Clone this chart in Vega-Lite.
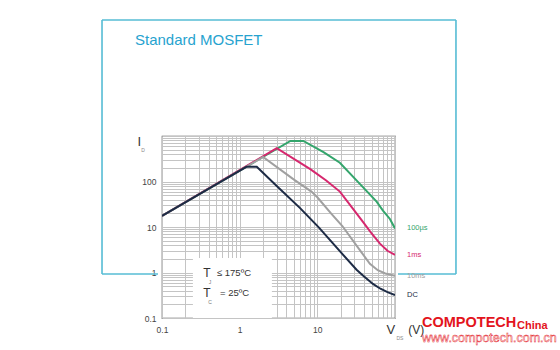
{
  "$schema": "https://vega.github.io/schema/vega-lite/v6.json",
  "width": 233,
  "height": 182,
  "autosize": {"type": "none"},
  "padding": {"left": 162, "top": 136, "right": 165, "bottom": 32},
  "background": "white",
  "config": {
    "view": {"stroke": "#555555", "strokeWidth": 1.2},
    "font": "Liberation Sans"
  },
  "datasets": {
    "curves": [
      {"series": "100µs", "V": 0.1, "I": 17.5},
      {"series": "100µs", "V": 4.5, "I": 780},
      {"series": "100µs", "V": 6.6, "I": 780},
      {"series": "100µs", "V": 12, "I": 440},
      {"series": "100µs", "V": 19.5, "I": 258},
      {"series": "100µs", "V": 35, "I": 90},
      {"series": "100µs", "V": 58, "I": 36},
      {"series": "100µs", "V": 70, "I": 23},
      {"series": "100µs", "V": 86, "I": 15},
      {"series": "100µs", "V": 100, "I": 9.3},
      {"series": "1ms", "V": 0.1, "I": 17.5},
      {"series": "1ms", "V": 3, "I": 540},
      {"series": "1ms", "V": 8.2, "I": 185},
      {"series": "1ms", "V": 13, "I": 105},
      {"series": "1ms", "V": 19.5, "I": 60},
      {"series": "1ms", "V": 30, "I": 23},
      {"series": "1ms", "V": 40, "I": 12},
      {"series": "1ms", "V": 50, "I": 7.2},
      {"series": "1ms", "V": 64, "I": 4.3},
      {"series": "1ms", "V": 80, "I": 3.0},
      {"series": "1ms", "V": 100, "I": 2.45},
      {"series": "10ms", "V": 0.1, "I": 17.5},
      {"series": "10ms", "V": 2, "I": 345},
      {"series": "10ms", "V": 5, "I": 110},
      {"series": "10ms", "V": 8.4, "I": 60},
      {"series": "10ms", "V": 10, "I": 45},
      {"series": "10ms", "V": 15, "I": 20},
      {"series": "10ms", "V": 21, "I": 10.5},
      {"series": "10ms", "V": 32, "I": 3.9},
      {"series": "10ms", "V": 47.5, "I": 1.55},
      {"series": "10ms", "V": 60, "I": 1.12},
      {"series": "10ms", "V": 75, "I": 0.95},
      {"series": "10ms", "V": 100, "I": 0.85},
      {"series": "DC", "V": 0.1, "I": 17.5},
      {"series": "DC", "V": 1.22, "I": 210},
      {"series": "DC", "V": 1.66, "I": 210},
      {"series": "DC", "V": 3, "I": 80},
      {"series": "DC", "V": 6, "I": 26},
      {"series": "DC", "V": 10.5, "I": 9.7},
      {"series": "DC", "V": 20, "I": 2.8},
      {"series": "DC", "V": 32, "I": 1.15},
      {"series": "DC", "V": 40, "I": 0.82},
      {"series": "DC", "V": 52, "I": 0.56},
      {"series": "DC", "V": 65, "I": 0.44},
      {"series": "DC", "V": 80, "I": 0.37},
      {"series": "DC", "V": 100, "I": 0.32}
    ]
  },
  "layer": [
    {
      "data": {"values": [{}]},
      "mark": {"type": "rule", "color": "#56bcd4", "strokeWidth": 1.6, "clip": false},
      "encoding": {
        "x": {"datum": 0.01689, "type": "quantitative"},
        "x2": {"datum": 609.5},
        "y": {"datum": 354000, "type": "quantitative"}
      }
    },
    {
      "data": {"values": [{}]},
      "mark": {"type": "rule", "color": "#56bcd4", "strokeWidth": 1.6, "clip": false},
      "encoding": {
        "x": {"datum": 0.01689, "type": "quantitative"},
        "y": {"datum": 354000, "type": "quantitative"},
        "y2": {"datum": 0.927}
      }
    },
    {
      "data": {"values": [{}]},
      "mark": {"type": "rule", "color": "#56bcd4", "strokeWidth": 1.6, "clip": false},
      "encoding": {
        "x": {"datum": 609.5, "type": "quantitative"},
        "y": {"datum": 354000, "type": "quantitative"},
        "y2": {"datum": 0.927}
      }
    },
    {
      "data": {"values": [{}]},
      "mark": {"type": "rule", "color": "#56bcd4", "strokeWidth": 1.6, "clip": false},
      "encoding": {
        "x": {"datum": 0.01689, "type": "quantitative"},
        "x2": {"datum": 0.0888},
        "y": {"datum": 0.927, "type": "quantitative"}
      }
    },
    {
      "data": {"values": [{}]},
      "mark": {"type": "rule", "color": "#56bcd4", "strokeWidth": 1.6, "clip": false},
      "encoding": {
        "x": {"datum": 109.3, "type": "quantitative"},
        "x2": {"datum": 609.5},
        "y": {"datum": 0.927, "type": "quantitative"}
      }
    },
    {
      "data": {"values": [{}]},
      "mark": {"type": "rect", "color": "white", "clip": true},
      "encoding": {
        "x": {"datum": 0.25, "type": "quantitative"},
        "x2": {"datum": 2.6},
        "y": {"datum": 2.08, "type": "quantitative"},
        "y2": {"datum": 0.1}
      }
    },
    {
      "data": {"name": "curves"},
      "mark": {"type": "line", "strokeWidth": 2, "clip": true},
      "encoding": {
        "x": {
          "field": "V", "type": "quantitative",
          "scale": {"type": "log", "domain": [0.1, 100], "nice": false},
          "axis": {
            "title": null,
            "values": [0.1, 0.2, 0.3, 0.4, 0.5, 0.6, 0.7, 0.8, 0.9, 1, 2, 3, 4, 5, 6, 7, 8, 9, 10, 20, 30, 40, 50, 60, 70, 80, 90, 100],
            "format": "~g",
            "labelExpr": "indexof([0.1, 1, 10], datum.value) >= 0 ? datum.label : ''",
            "ticks": false, "domain": false,
            "grid": true, "gridColor": "#c4c4c4", "gridWidth": 1,
            "labelFontSize": 8.5, "labelColor": "#444444", "labelPadding": 7,
            "labelFlush": false, "labelOverlap": false, "labelBound": false
          }
        },
        "y": {
          "field": "I", "type": "quantitative",
          "scale": {"type": "log", "domain": [0.1, 1000], "nice": false},
          "axis": {
            "title": null,
            "values": [0.1, 0.2, 0.3, 0.4, 0.5, 0.6, 0.7, 0.8, 0.9, 1, 2, 3, 4, 5, 6, 7, 8, 9, 10, 20, 30, 40, 50, 60, 70, 80, 90, 100, 200, 300, 400, 500, 600, 700, 800, 900, 1000],
            "format": "~g",
            "labelExpr": "indexof([0.1, 1, 10, 100], datum.value) >= 0 ? datum.label : ''",
            "ticks": false, "domain": false,
            "grid": true, "gridColor": "#c4c4c4", "gridWidth": 1,
            "labelFontSize": 8.5, "labelColor": "#444444", "labelPadding": 6,
            "labelFlush": false, "labelOverlap": false, "labelBound": false
          }
        },
        "color": {
          "field": "series", "type": "nominal",
          "scale": {"domain": ["100µs", "1ms", "10ms", "DC"], "range": ["#34a56c", "#d6286e", "#a0a0a0", "#1d2b45"]},
          "legend": null
        }
      }
    },
    {
      "data": {"name": "curves"},
      "transform": [{"filter": "datum.V == 100"}],
      "mark": {"type": "text", "align": "left", "baseline": "middle", "dx": 12, "fontSize": 7.5, "clip": false},
      "encoding": {
        "x": {"field": "V", "type": "quantitative"},
        "y": {"field": "I", "type": "quantitative"},
        "text": {"field": "series"},
        "color": {"field": "series", "type": "nominal", "legend": null}
      }
    },
    {
      "data": {"values": [{}]},
      "mark": {"type": "text", "align": "center", "baseline": "middle", "fontSize": 12, "color": "#333333", "clip": false},
      "encoding": {
        "x": {"datum": 0.38, "type": "quantitative"},
        "y": {"datum": 0.975, "type": "quantitative"},
        "text": {"value": "T"}
      }
    },
    {
      "data": {"values": [{}]},
      "mark": {"type": "text", "align": "center", "baseline": "middle", "fontSize": 5, "color": "#777777", "clip": false},
      "encoding": {
        "x": {"datum": 0.415, "type": "quantitative"},
        "y": {"datum": 0.618, "type": "quantitative"},
        "text": {"value": "J"}
      }
    },
    {
      "data": {"values": [{}]},
      "mark": {"type": "text", "align": "left", "baseline": "middle", "fontSize": 9.5, "color": "#333333", "clip": false},
      "encoding": {
        "x": {"datum": 0.51, "type": "quantitative"},
        "y": {"datum": 0.975, "type": "quantitative"},
        "text": {"value": "≤ 175ºC"}
      }
    },
    {
      "data": {"values": [{}]},
      "mark": {"type": "text", "align": "center", "baseline": "middle", "fontSize": 12, "color": "#333333", "clip": false},
      "encoding": {
        "x": {"datum": 0.38, "type": "quantitative"},
        "y": {"datum": 0.354, "type": "quantitative"},
        "text": {"value": "T"}
      }
    },
    {
      "data": {"values": [{}]},
      "mark": {"type": "text", "align": "center", "baseline": "middle", "fontSize": 5, "color": "#777777", "clip": false},
      "encoding": {
        "x": {"datum": 0.415, "type": "quantitative"},
        "y": {"datum": 0.225, "type": "quantitative"},
        "text": {"value": "C"}
      }
    },
    {
      "data": {"values": [{}]},
      "mark": {"type": "text", "align": "left", "baseline": "middle", "fontSize": 9.5, "color": "#333333", "clip": false},
      "encoding": {
        "x": {"datum": 0.558, "type": "quantitative"},
        "y": {"datum": 0.354, "type": "quantitative"},
        "text": {"value": "= 25ºC"}
      }
    },
    {
      "data": {"values": [{}]},
      "mark": {"type": "text", "align": "center", "baseline": "middle", "fontSize": 13, "color": "#333333", "clip": false},
      "encoding": {
        "x": {"datum": 0.051, "type": "quantitative"},
        "y": {"datum": 738, "type": "quantitative"},
        "text": {"value": "I"}
      }
    },
    {
      "data": {"values": [{}]},
      "mark": {"type": "text", "align": "center", "baseline": "middle", "fontSize": 5, "color": "#888888", "clip": false},
      "encoding": {
        "x": {"datum": 0.0569, "type": "quantitative"},
        "y": {"datum": 492, "type": "quantitative"},
        "text": {"value": "D"}
      }
    },
    {
      "data": {"values": [{}]},
      "mark": {"type": "text", "align": "center", "baseline": "middle", "fontSize": 13, "color": "#333333", "clip": false},
      "encoding": {
        "x": {"datum": 88.5, "type": "quantitative"},
        "y": {"datum": 0.0545, "type": "quantitative"},
        "text": {"value": "V"}
      }
    },
    {
      "data": {"values": [{}]},
      "mark": {"type": "text", "align": "center", "baseline": "middle", "fontSize": 5, "color": "#888888", "clip": false},
      "encoding": {
        "x": {"datum": 115.6, "type": "quantitative"},
        "y": {"datum": 0.0363, "type": "quantitative"},
        "text": {"value": "DS"}
      }
    },
    {
      "data": {"values": [{}]},
      "mark": {"type": "text", "align": "center", "baseline": "middle", "fontSize": 12, "color": "#333333", "clip": false},
      "encoding": {
        "x": {"datum": 188, "type": "quantitative"},
        "y": {"datum": 0.0545, "type": "quantitative"},
        "text": {"value": "(V)"}
      }
    },
    {
      "data": {"values": [{}]},
      "mark": {"type": "text", "align": "left", "baseline": "middle", "fontSize": 15, "color": "#27a3cf", "clip": false},
      "encoding": {
        "x": {"datum": 0.0449, "type": "quantitative"},
        "y": {"datum": 128800, "type": "quantitative"},
        "text": {"value": "Standard MOSFET"}
      }
    },
    {
      "data": {"values": [{}]},
      "mark": {"type": "text", "align": "left", "baseline": "middle", "fontSize": 14.5, "fontWeight": "bold", "font": "Liberation Sans", "color": "#e3141c", "clip": false},
      "encoding": {
        "x": {"datum": 222.6, "type": "quantitative"},
        "y": {"datum": 0.0776, "type": "quantitative"},
        "text": {"value": "COMPOTECH"}
      }
    },
    {
      "data": {"values": [{}]},
      "mark": {"type": "text", "align": "left", "baseline": "middle", "fontSize": 11, "fontWeight": "bold", "font": "Liberation Sans", "color": "#e3141c", "clip": false},
      "encoding": {
        "x": {"datum": 3724, "type": "quantitative"},
        "y": {"datum": 0.0667, "type": "quantitative"},
        "text": {"value": "China"}
      }
    },
    {
      "data": {"values": [{}]},
      "mark": {"type": "text", "align": "left", "baseline": "middle", "fontSize": 12.5, "color": "#ffffff", "stroke": "#e3141c", "strokeWidth": 0.45, "clip": false},
      "encoding": {
        "x": {"datum": 222.6, "type": "quantitative"},
        "y": {"datum": 0.0355, "type": "quantitative"},
        "text": {"value": "www.compotech.com.cn"}
      }
    }
  ]
}
